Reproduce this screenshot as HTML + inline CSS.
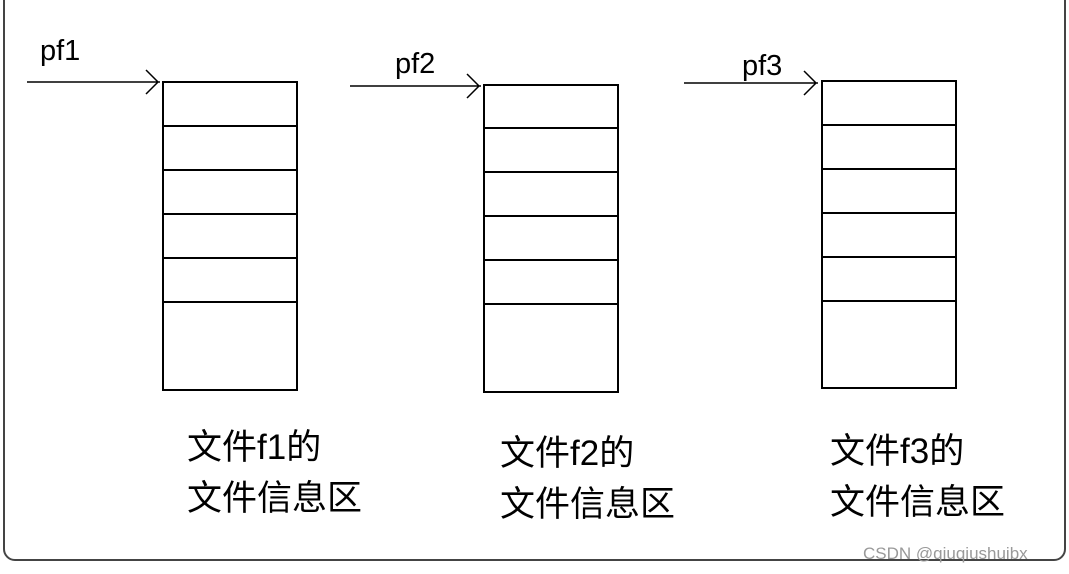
<!DOCTYPE html>
<html><head><meta charset="utf-8"><style>
body{margin:0;width:1069px;height:574px;background:#fff;overflow:hidden;position:relative;font-family:"Liberation Sans","Noto Sans CJK SC",sans-serif}
.frame{position:absolute;left:3px;top:-12px;width:1063px;height:573px;border:2px solid #444;border-radius:12px;box-sizing:border-box}
.t{position:absolute;font-size:35px;line-height:51px;color:#000;white-space:nowrap}
.p{position:absolute;font-size:29px;color:#000}
.wm{position:absolute;left:863px;top:544px;font-size:17px;color:#999;white-space:nowrap}
</style></head><body>
<div class="frame"></div>
<svg width="1069" height="574" style="position:absolute;left:0;top:0" stroke="#000" stroke-width="2" fill="none">
<rect x="163" y="82" width="134" height="308"/>
<path d="M163 126H297M163 170H297M163 214H297M163 258H297M163 302H297"/>
<rect x="484" y="85" width="134" height="307"/>
<path d="M484 128H618M484 172H618M484 216H618M484 260H618M484 304H618"/>
<rect x="822" y="81" width="134" height="307"/>
<path d="M822 125H956M822 169H956M822 213H956M822 257H956M822 301H956"/>
<path d="M27 82H160M146 70L158 82L146 94" stroke-width="1.5"/>
<path d="M350 86H481M467 74L479 86L467 98" stroke-width="1.5"/>
<path d="M684 83H818M804 71L816 83L804 95" stroke-width="1.5"/>
</svg>
<div class="p" style="left:40px;top:35px">pf1</div>
<div class="p" style="left:395px;top:48px">pf2</div>
<div class="p" style="left:742px;top:50px">pf3</div>
<div class="t" style="left:187px;top:422px">文件f1的<br>文件信息区</div>
<div class="t" style="left:500px;top:428px">文件f2的<br>文件信息区</div>
<div class="t" style="left:830px;top:426px">文件f3的<br>文件信息区</div>
<div class="wm">CSDN @qiuqiushuibx</div>
</body></html>
